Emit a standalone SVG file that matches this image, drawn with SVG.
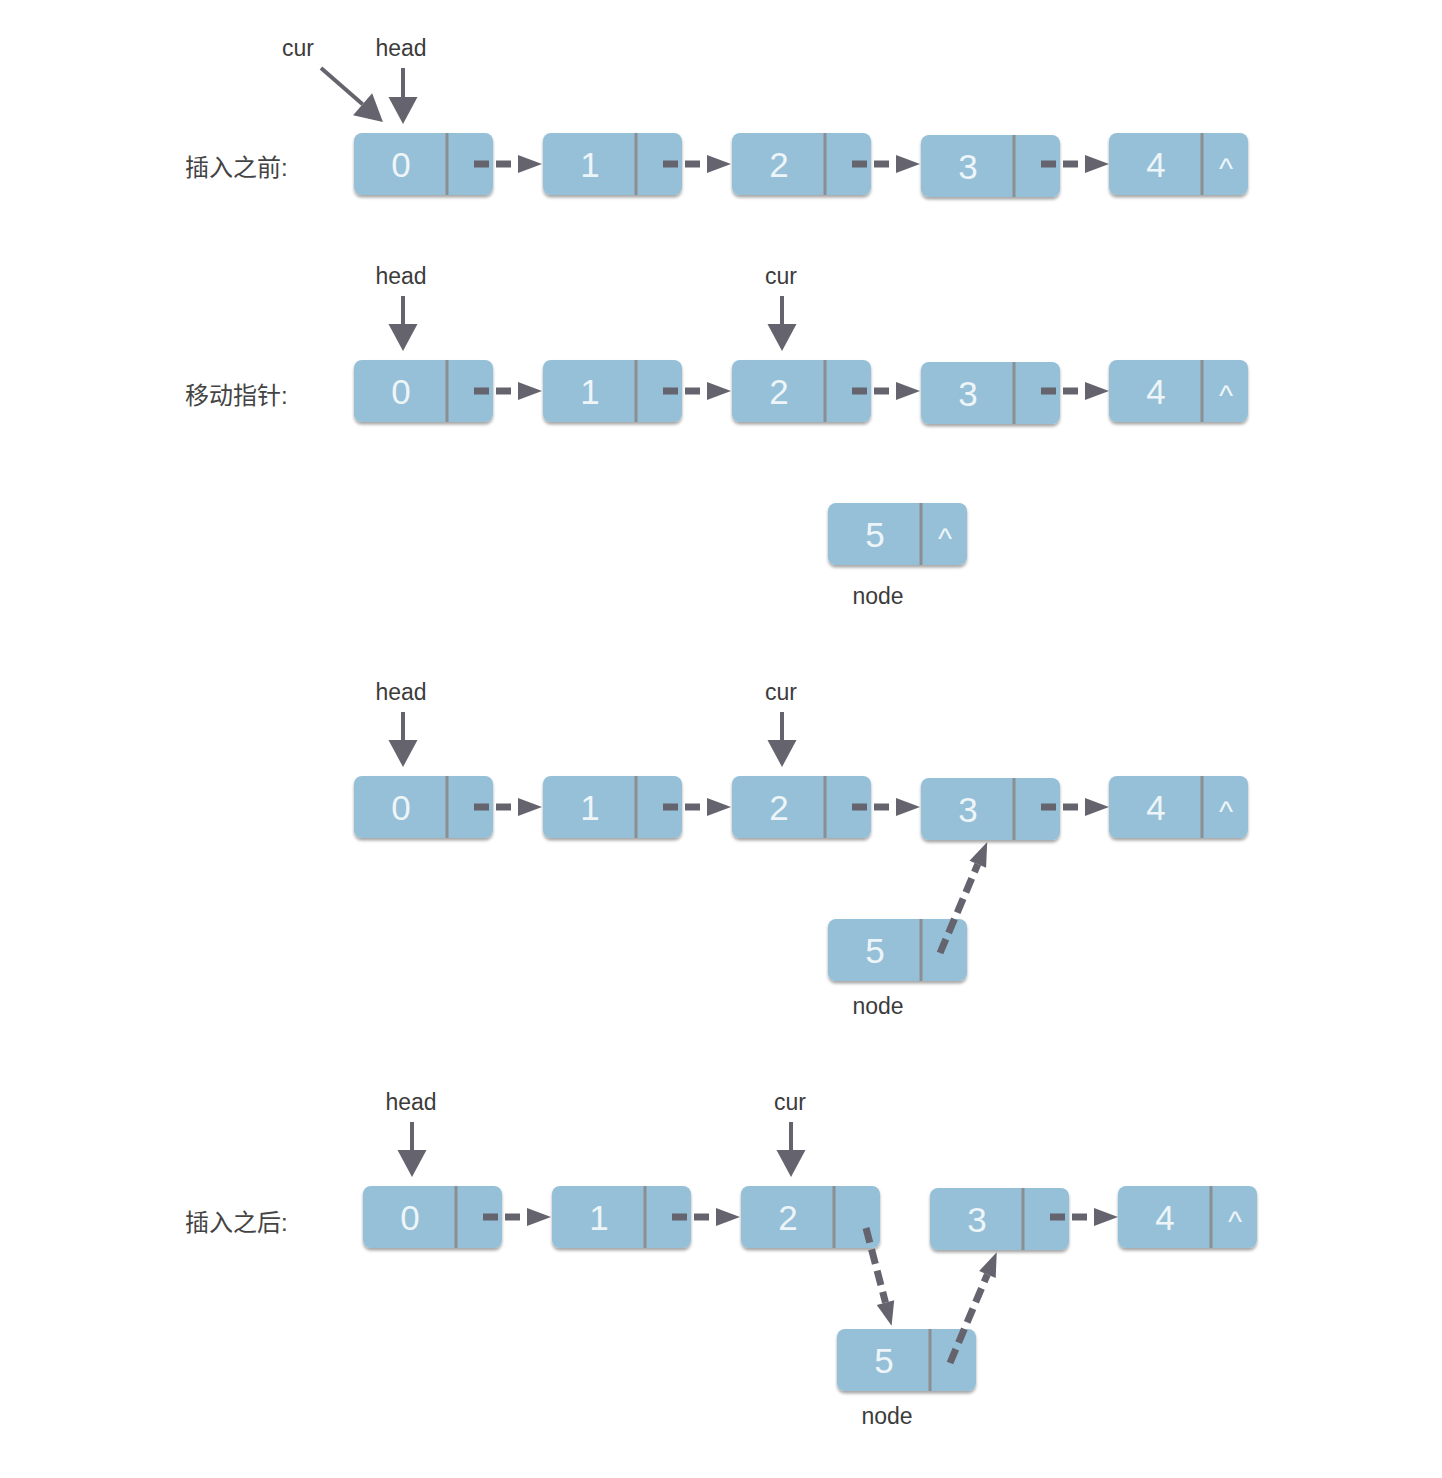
<svg xmlns="http://www.w3.org/2000/svg" width="1442" height="1478" viewBox="0 0 1442 1478">
<style>
.box{fill:#95c0d7;}
.div{stroke:#8c8f92;stroke-width:3;}
.num{font-family:"Liberation Sans",Arial,sans-serif;font-size:35px;fill:#eef5f9;text-anchor:middle;}
.nil{font-family:"Liberation Sans",Arial,sans-serif;font-size:30px;fill:#eef5f9;text-anchor:middle;}
.lbl{font-family:"Liberation Sans",Arial,sans-serif;font-size:23px;fill:#3c3c3c;text-anchor:middle;}
.title{font-family:"Liberation Sans","Noto Sans CJK SC",sans-serif;font-size:24px;fill:#444;}
.dash{stroke:#65646e;stroke-width:7;stroke-dasharray:15 7;fill:none;marker-end:url(#dh);}
.ptr{stroke:#65646e;stroke-width:4;fill:none;marker-end:url(#ph);}
</style>
<defs>
<filter id="sh" x="-10%" y="-10%" width="120%" height="140%">
<feDropShadow dx="0" dy="2.5" stdDeviation="1.5" flood-color="#000" flood-opacity="0.35"/>
</filter>
<marker id="dh" markerUnits="userSpaceOnUse" markerWidth="24" markerHeight="18" refX="0" refY="9" orient="auto" overflow="visible">
<path d="M0,0 L24,9 L0,18 z" fill="#65646e"/>
</marker>
<marker id="ph" markerUnits="userSpaceOnUse" markerWidth="27" markerHeight="29" refX="0" refY="14.5" orient="auto" overflow="visible">
<path d="M0,0 L27,14.5 L0,29 z" fill="#65646e"/>
</marker>
<g id="nb">
<rect class="box" x="0" y="0" width="139" height="62" rx="8" filter="url(#sh)"/>
<line class="div" x1="93" y1="0" x2="93" y2="62"/>
</g>
</defs>

<rect width="1442" height="1478" fill="#fff"/>

<!-- titles -->
<text class="title" x="185" y="176">插入之前:</text>
<text class="title" x="185" y="404">移动指针:</text>
<text class="title" x="185" y="1231">插入之后:</text>

<!-- Row 1 -->
<g id="r1n0" transform="translate(354,133)"><use href="#nb"/><text class="num" x="47" y="44">0</text></g>
<g id="r1n1" transform="translate(543,133)"><use href="#nb"/><text class="num" x="47" y="44">1</text></g>
<g id="r1n2" transform="translate(732,133)"><use href="#nb"/><text class="num" x="47" y="44">2</text></g>
<g id="r1n3" transform="translate(921,135)"><use href="#nb"/><text class="num" x="47" y="44">3</text></g>
<g id="r1n4" transform="translate(1109,133)"><use href="#nb"/><text class="num" x="47" y="44">4</text><text class="nil" x="117" y="46">^</text></g>
<g id="r1labels">
<text class="lbl" x="298" y="56">cur</text>
<text class="lbl" x="401" y="56">head</text>
</g>

<!-- Row 2 -->
<g id="r2n0" transform="translate(354,360)"><use href="#nb"/><text class="num" x="47" y="44">0</text></g>
<g id="r2n1" transform="translate(543,360)"><use href="#nb"/><text class="num" x="47" y="44">1</text></g>
<g id="r2n2" transform="translate(732,360)"><use href="#nb"/><text class="num" x="47" y="44">2</text></g>
<g id="r2n3" transform="translate(921,362)"><use href="#nb"/><text class="num" x="47" y="44">3</text></g>
<g id="r2n4" transform="translate(1109,360)"><use href="#nb"/><text class="num" x="47" y="44">4</text><text class="nil" x="117" y="46">^</text></g>
<g id="r2n5" transform="translate(828,503)"><use href="#nb"/><text class="num" x="47" y="44">5</text><text class="nil" x="117" y="46">^</text></g>
<g id="r2labels">
<text class="lbl" x="401" y="284">head</text>
<text class="lbl" x="781" y="284">cur</text>
<text class="lbl" x="878" y="604">node</text>
</g>

<!-- Row 3 -->
<g id="r3n0" transform="translate(354,776)"><use href="#nb"/><text class="num" x="47" y="44">0</text></g>
<g id="r3n1" transform="translate(543,776)"><use href="#nb"/><text class="num" x="47" y="44">1</text></g>
<g id="r3n2" transform="translate(732,776)"><use href="#nb"/><text class="num" x="47" y="44">2</text></g>
<g id="r3n3" transform="translate(921,778)"><use href="#nb"/><text class="num" x="47" y="44">3</text></g>
<g id="r3n4" transform="translate(1109,776)"><use href="#nb"/><text class="num" x="47" y="44">4</text><text class="nil" x="117" y="46">^</text></g>
<g id="r3n5" transform="translate(828,919)"><use href="#nb"/><text class="num" x="47" y="44">5</text></g>
<g id="r3labels">
<text class="lbl" x="401" y="700">head</text>
<text class="lbl" x="781" y="700">cur</text>
<text class="lbl" x="878" y="1014">node</text>
</g>

<!-- Row 4 -->
<g id="r4n0" transform="translate(363,1186)"><use href="#nb"/><text class="num" x="47" y="44">0</text></g>
<g id="r4n1" transform="translate(552,1186)"><use href="#nb"/><text class="num" x="47" y="44">1</text></g>
<g id="r4n2" transform="translate(741,1186)"><use href="#nb"/><text class="num" x="47" y="44">2</text></g>
<g id="r4n3" transform="translate(930,1188)"><use href="#nb"/><text class="num" x="47" y="44">3</text></g>
<g id="r4n4" transform="translate(1118,1186)"><use href="#nb"/><text class="num" x="47" y="44">4</text><text class="nil" x="117" y="46">^</text></g>
<g id="r4n5" transform="translate(837,1329)"><use href="#nb"/><text class="num" x="47" y="44">5</text></g>
<g id="r4labels">
<text class="lbl" x="411" y="1110">head</text>
<text class="lbl" x="790" y="1110">cur</text>
<text class="lbl" x="887" y="1424">node</text>
</g>

<!-- connectors -->
<g id="connectors">
<!-- row 1 -->
<line class="ptr" x1="321" y1="68" x2="362.6" y2="104.3"/>
<line class="ptr" x1="403" y1="68" x2="403" y2="97"/>
<line class="dash" x1="474" y1="164" x2="518" y2="164"/>
<line class="dash" x1="663" y1="164" x2="707" y2="164"/>
<line class="dash" x1="852" y1="164" x2="896" y2="164"/>
<line class="dash" x1="1041" y1="164" x2="1085" y2="164"/>
<!-- row 2 -->
<line class="ptr" x1="403" y1="296" x2="403" y2="324"/>
<line class="ptr" x1="782" y1="296" x2="782" y2="324"/>
<line class="dash" x1="474" y1="391" x2="518" y2="391"/>
<line class="dash" x1="663" y1="391" x2="707" y2="391"/>
<line class="dash" x1="852" y1="391" x2="896" y2="391"/>
<line class="dash" x1="1041" y1="391" x2="1085" y2="391"/>
<!-- row 3 -->
<line class="ptr" x1="403" y1="712" x2="403" y2="740"/>
<line class="ptr" x1="782" y1="712" x2="782" y2="740"/>
<line class="dash" x1="474" y1="807" x2="518" y2="807"/>
<line class="dash" x1="663" y1="807" x2="707" y2="807"/>
<line class="dash" x1="852" y1="807" x2="896" y2="807"/>
<line class="dash" x1="1041" y1="807" x2="1085" y2="807"/>
<line class="dash" x1="940" y1="953" x2="977.8" y2="864.2"/>
<!-- row 4 -->
<line class="ptr" x1="412" y1="1122" x2="412" y2="1150"/>
<line class="ptr" x1="791" y1="1122" x2="791" y2="1150"/>
<line class="dash" x1="483" y1="1217" x2="527" y2="1217"/>
<line class="dash" x1="672" y1="1217" x2="716" y2="1217"/>
<line class="dash" x1="1050" y1="1217" x2="1094" y2="1217"/>
<line class="dash" x1="866" y1="1228" x2="885.5" y2="1302.6"/>
<line class="dash" x1="950" y1="1363" x2="987.4" y2="1274.4"/>
</g>
</svg>
